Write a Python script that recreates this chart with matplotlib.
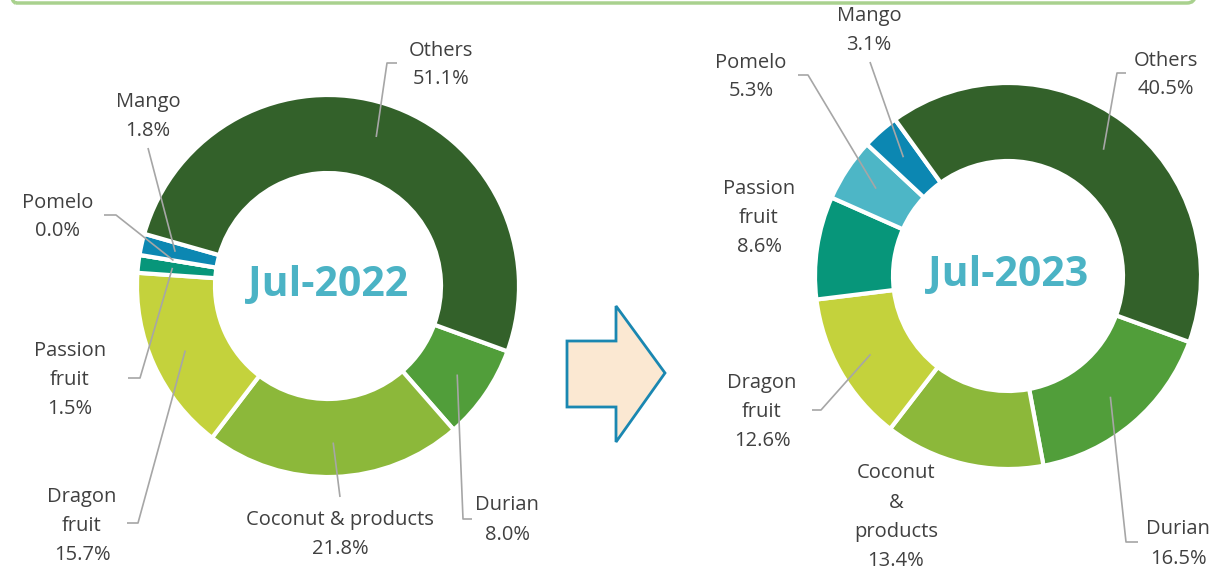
import numpy as np
import matplotlib
matplotlib.use("Agg")
import matplotlib.pyplot as plt
from matplotlib.patches import Polygon, FancyBboxPatch

# data
fruits = ["Durian", "Coconut & products", "Dragon fruit", "Passion fruit", "Pomelo", "Mango", "Others"]
share_2022 = [8.0, 21.8, 15.7, 1.5, 0.0, 1.8, 51.1]
share_2023 = [16.5, 13.4, 12.6, 8.6, 5.3, 3.1, 40.5]
titles = ["Jul-2022", "Jul-2023"]

colors = ["#519E3A", "#8CB83A", "#C4D23C", "#07967A", "#4DB6C6", "#0C87B2", "#33612A"]
text_col = "#404040"
line_col = "#A6A6A6"

W, H = 1216, 574
plt.rcParams['font.family'] = ['Open Sans', 'DejaVu Sans']

fig = plt.figure(figsize=(W / 100, H / 100), dpi=100)
ax = fig.add_axes([0, 0, 1, 1])


def Y(y):
  # image row -> data y
  return H - y


# layout per chart: centre, outer radius, inner radius
charts = [
  {"c": (328, 286), "R": 191, "r": 113,
   "names": ["Durian", "Coconut & products", "Dragon\nfruit", "Passion\nfruit", "Pomelo", "Mango", "Others"],
   "pos": [(507, 520), (340, 535), (82, 526), (70, 380), (58, 217), (148, 117), (441, 65)],
   "lines": [[(472, 519), (463, 519)], [(340, 497)], [(127, 523), (138, 523)], [(128, 378), (140, 378)],
             [(104, 215), (116, 215)], [(148, 148)], [(397, 63), (387, 63)]]},
  {"c": (1008, 276), "R": 193, "r": 115,
   "names": ["Durian", "Coconut\n&\nproducts", "Dragon\nfruit", "Passion\nfruit", "Pomelo", "Mango", "Others"],
   "pos": [(1178, 544), (896, 517), (762, 412), (759, 218), (751, 77), (869, 31), (1166, 75)],
   "lines": [[(1138, 542), (1126, 542)], None, [(812, 410), (821, 410)], None,
             [(798, 75), (808, 75)], [(870, 62)], [(1126, 73), (1117, 73)]]},
]

start = -20
for chart, vals, title in zip(charts, [share_2022, share_2023], titles):
  cx, cy = chart["c"][0], Y(chart["c"][1])
  R, r = chart["R"], chart["r"]
  ax.pie(vals, colors=colors, startangle=start, counterclock=False,
         center=(cx, cy), radius=R,
         wedgeprops=dict(width=R - r, edgecolor="white", linewidth=3))
  ax.text(cx, cy, title, ha="center", va="center", fontsize=29.5,
          fontweight="bold", color="#4BB3C5")

  total = sum(vals)
  cum = 0
  for i, v in enumerate(vals):
    mid = start - 360 * (cum + v / 2) / total
    cum += v
    tx, ty = chart["pos"][i]
    ax.text(tx, Y(ty), "%s\n%.1f%%" % (chart["names"][i], v), ha="center", va="center",
            fontsize=14.5, color=text_col, linespacing=1.6)
    pts = chart["lines"][i]
    if pts is None:
      continue
    rr = 0.82 * R
    ex = cx + rr * np.cos(np.radians(mid))
    ey = cy + rr * np.sin(np.radians(mid))
    xs = [p[0] for p in pts] + [ex]
    ys = [Y(p[1]) for p in pts] + [ey]
    ax.plot(xs, ys, color=line_col, lw=1.2, solid_capstyle="butt")

# arrow between the two charts
arrow = [(567, 341), (616, 341), (616, 306), (665, 373), (616, 442), (616, 407), (567, 407)]
ax.add_patch(Polygon([(x, Y(y)) for x, y in arrow], closed=True,
                     facecolor="#FBE8D2", edgecolor="#1A87B1", lw=2))

# bottom of the box above
ax.add_patch(FancyBboxPatch((8, Y(3)), 1187, 60, boxstyle="round,pad=0,rounding_size=8",
                            facecolor="none", edgecolor="#A9D18E", lw=2.5, clip_on=True))

ax.set_xlim(0, W)
ax.set_ylim(0, H)
ax.set_aspect("auto")
ax.axis("off")

plt.savefig("out.png", dpi=100)
